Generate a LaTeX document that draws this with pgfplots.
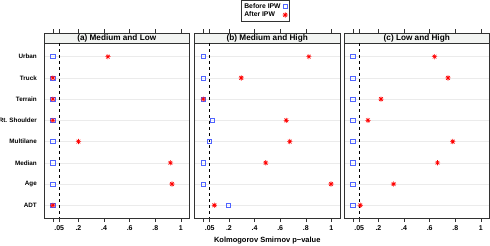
\documentclass[border=0pt]{standalone}
\usepackage{fontspec}
\setmainfont{Liberation Sans}
\usepackage{pgfplots}
\pgfplotsset{compat=1.18}
\definecolor{bblue}{RGB}{80,100,255}
\definecolor{stripc}{RGB}{242,244,242}
\definecolor{axc}{RGB}{50,50,50}
\pgfdeclareplotmark{ast8}{%
 \pgfpathmoveto{\pgfqpoint{-\pgfplotmarksize}{0pt}}\pgfpathlineto{\pgfqpoint{\pgfplotmarksize}{0pt}}%
 \pgfpathmoveto{\pgfqpoint{0pt}{-\pgfplotmarksize}}\pgfpathlineto{\pgfqpoint{0pt}{\pgfplotmarksize}}%
 \pgfpathmoveto{\pgfqpoint{-0.707\pgfplotmarksize}{-0.707\pgfplotmarksize}}\pgfpathlineto{\pgfqpoint{0.707\pgfplotmarksize}{0.707\pgfplotmarksize}}%
 \pgfpathmoveto{\pgfqpoint{-0.707\pgfplotmarksize}{0.707\pgfplotmarksize}}\pgfpathlineto{\pgfqpoint{0.707\pgfplotmarksize}{-0.707\pgfplotmarksize}}%
 \pgfusepathqstroke}
\pgfplotsset{
 panel/.style={
  scale only axis, width=145.5pt, height=185pt,
  xmin=-0.069, xmax=1.067, ymin=-0.116, ymax=8.6, y dir=reverse,
  axis line style={axc, line width=0.7pt},
  xtick={0,0.05,0.2,0.4,0.6,0.8,1},
  xticklabels={,.05,.2,.4,.6,.8,1},
  xtick pos=both, xticklabel pos=bottom,
  tick align=outside, major tick length=4pt,
  x tick style={axc, line width=0.6pt},
  ytick={1,...,8}, y tick style={draw=none},
  ymajorgrids, grid style={black!8, line width=0.4pt},
  ticklabel style={font=\fontsize{7}{8}\selectfont\bfseries},
  yticklabel style={font=\fontsize{6.3}{8}\selectfont\bfseries, inner sep=1pt, xshift=-2pt},
  clip=false,
 },
 beforeS/.style={only marks, mark=square, mark size=2.1pt, mark options={draw=bblue, line width=0.6pt}},
 afterS/.style={only marks, mark=ast8, mark size=2.6pt, mark options={draw=red, line width=0.6pt}},
}
\newcommand{\strip}[1]{%
 \draw[axc, line width=0.7pt, fill=stripc] (axis cs:-0.069,-0.116) rectangle (axis cs:1.067,0.355);
 \node[font=\fontsize{8.2}{9}\selectfont\bfseries, inner sep=0pt] at (axis cs:0.499,0.12) {#1};
 \addplot[black, dashed, line width=0.6pt, forget plot] coordinates {(0.05,0.355) (0.05,8.6)};
}
\begin{document}
\begin{tikzpicture}
\useasboundingbox (0,0) rectangle (490pt,-246pt);
% panel a
\begin{axis}[panel, at={(44pt,-33pt)}, anchor=north west,
  yticklabels={Urban,Truck,Terrain,Rt. Shoulder,Multilane,Median,Age,ADT}]
\strip{(a) Medium and Low}
\addplot[beforeS] coordinates {(0,1)(0,2)(0,3)(0,4)(0,5)(0,6)(0,7)(0,8)};
\addplot[afterS] coordinates {(0.43,1)(0,2)(0,3)(0,4)(0.2,5)(0.918,6)(0.93,7)(0,8)};
\end{axis}
% panel b
\begin{axis}[panel, at={(194.5pt,-33pt)}, anchor=north west, yticklabels={},
  xlabel={Kolmogorov Smirnov p−value},
  xlabel style={font=\fontsize{7.5}{9}\selectfont\bfseries, at={(axis description cs:0.5,-0.123)}, anchor=center},
  legend style={at={(axis description cs:0.485,1.178)}, anchor=north, draw=axc, line width=0.5pt,
    font=\fontsize{6.8}{7.5}\selectfont\bfseries, inner sep=1pt, row sep=-2pt,
    legend cell align=left, fill=white},
  legend plot pos=right]
\strip{(b) Medium and High}
\addplot[beforeS] coordinates {(0,1)(0,2)(0,3)(0.068,4)(0.047,5)(0,6)(0,7)(0.196,8)};
\addlegendentry{Before IPW}
\addplot[afterS] coordinates {(0.824,1)(0.296,2)(0,3)(0.647,4)(0.675,5)(0.487,6)(0.997,7)(0.086,8)};
\addlegendentry{After IPW}
\end{axis}
% panel c
\begin{axis}[panel, at={(344pt,-33pt)}, anchor=north west, yticklabels={}]
\strip{(c) Low and High}
\addplot[beforeS] coordinates {(0,1)(0,2)(0,3)(0,4)(0,5)(0,6)(0,7)(0,8)};
\addplot[afterS] coordinates {(0.638,1)(0.743,2)(0.22,3)(0.118,4)(0.78,5)(0.661,6)(0.318,7)(0.058,8)};
\end{axis}
\end{tikzpicture}
\end{document}
